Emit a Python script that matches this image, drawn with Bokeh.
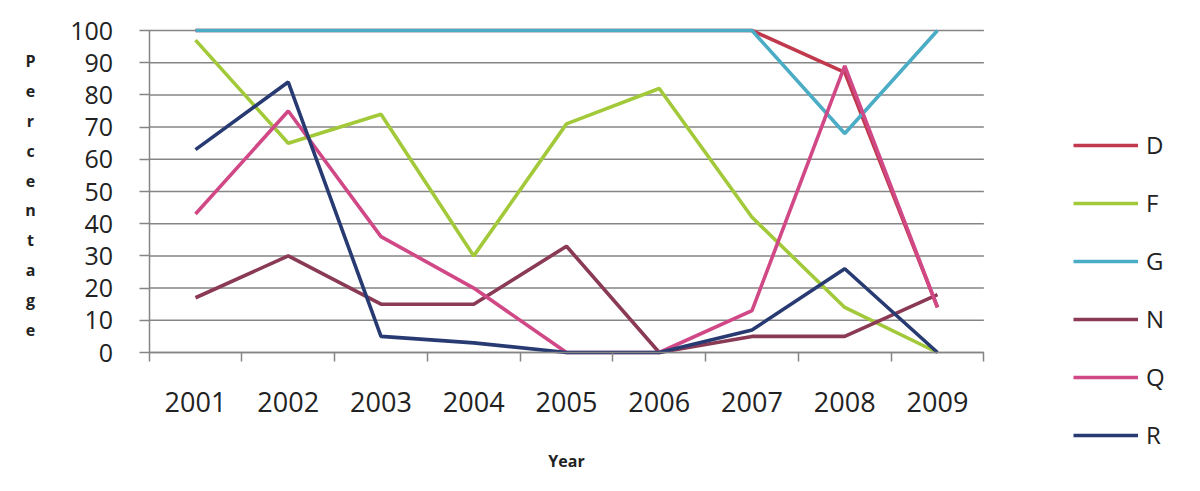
from bokeh.plotting import figure
from bokeh.models import Range1d, FixedTicker, Legend, LegendItem, Label
from bokeh.embed import file_html
from bokeh.resources import INLINE

years = ["2001", "2002", "2003", "2004", "2005", "2006", "2007", "2008", "2009"]
D = [100, 100, 100, 100, 100, 100, 100, 87, 14]
F = [97, 65, 74, 30, 71, 82, 42, 14, 0]
G = [100, 100, 100, 100, 100, 100, 100, 68, 100]
N = [17, 30, 15, 15, 33, 0, 5, 5, 18]
Q = [43, 75, 36, 20, 0, 0, 13, 89, 14]
R = [63, 84, 5, 3, 0, 0, 7, 26, 0]
y_ticks = list(range(0, 101, 10))

series = [("D", D, "#C0394C"), ("F", F, "#A2C93A"), ("G", G, "#4BACC6"),
          ("N", N, "#8A3A55"), ("Q", Q, "#D04886"), ("R", R, "#283A72")]

xs = list(range(1, len(years) + 1))

FONT = "Open Sans"
GRID = "#858585"
TXT = "#222222"

# layout (pixels): whole figure is the frame; axes are fixed inside it
W, H = 1184, 475
X0, DX = 195, 92.75      # pixel of first category, pixels per category
Y0, DY = 352, 3.22       # pixel of value 0, pixels per percent

def dx(px):
    return 1 + (px - X0) / DX

def dy(py):
    return (Y0 - py) / DY

p = figure(width=W, height=H, output_backend="svg", toolbar_location=None,
           x_range=Range1d(dx(0), dx(W)), y_range=Range1d(dy(H), dy(0)),
           min_border=0, min_border_left=0, min_border_right=0,
           min_border_top=0, min_border_bottom=0)
p.outline_line_color = None
p.grid.visible = False

# horizontal gridlines limited to the category span
lo, hi = 0.5, len(years) + 0.5
p.segment(x0=[lo] * len(y_ticks), y0=y_ticks, x1=[hi] * len(y_ticks), y1=y_ticks,
          line_color=GRID, line_width=1.5)

# x axis at y = 0
p.xaxis.fixed_location = 0
p.xaxis.bounds = (lo, hi)
p.xaxis.ticker = FixedTicker(ticks=xs, minor_ticks=[x - 0.5 for x in xs] + [hi])
p.xaxis.major_label_overrides = {x: y for x, y in zip(xs, years)}
p.xaxis.major_tick_out = 0
p.xaxis.major_tick_in = 0
p.xaxis.minor_tick_out = 9
p.xaxis.minor_tick_in = 0
p.xaxis.minor_tick_line_color = GRID
p.xaxis.minor_tick_line_width = 1.5
p.xaxis.axis_line_color = GRID
p.xaxis.axis_line_width = 1.5
p.xaxis.major_label_text_font = FONT
p.xaxis.major_label_text_font_size = "27px"
p.xaxis.major_label_text_color = TXT
p.xaxis.major_label_standoff = 30

# y axis at the left edge of the categories
p.yaxis.fixed_location = lo
p.yaxis.bounds = (0, 100)
p.yaxis.ticker = FixedTicker(ticks=y_ticks, minor_ticks=[])
p.yaxis.major_tick_out = 10
p.yaxis.major_tick_in = 0
p.yaxis.major_tick_line_color = GRID
p.yaxis.major_tick_line_width = 1.5
p.yaxis.axis_line_color = GRID
p.yaxis.axis_line_width = 1.5
p.yaxis.major_label_text_font = FONT
p.yaxis.major_label_text_font_size = "25px"
p.yaxis.major_label_text_color = TXT
p.yaxis.major_label_standoff = 26

renderers = []
for name, vals, color in series:
    r = p.line(xs, vals, line_color=color, line_width=3.6)
    renderers.append(LegendItem(label=name, renderers=[r]))

legend = Legend(items=renderers, location=(1073, H - 451), orientation="vertical",
                glyph_width=65, glyph_height=20, label_height=20, spacing=25,
                label_standoff=8, padding=0, margin=0,
                border_line_color=None, background_fill_alpha=0,
                label_text_font=FONT, label_text_font_size="24px", label_text_color=TXT)
p.add_layout(legend)

p.add_layout(Label(x=(1 + len(years)) / 2, y=dy(460), text="Year",
                   text_align="center", text_baseline="middle", text_font=FONT,
                   text_font_style="bold", text_font_size="16px", text_color=TXT))
p.add_layout(Label(x=dx(30), y=dy(195), text="\n".join("Percentage"),
                   text_align="center", text_baseline="middle", text_font=FONT,
                   text_font_style="bold", text_font_size="16px", text_line_height=1.36,
                   text_color=TXT))

open("out.html", "w").write(file_html(p, INLINE))
